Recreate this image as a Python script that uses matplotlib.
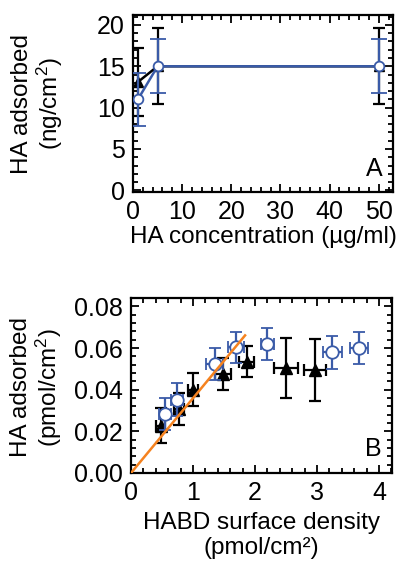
import matplotlib
matplotlib.use("Agg")
import matplotlib.pyplot as plt
from matplotlib.ticker import MultipleLocator

plt.rcParams["font.family"] = ["Liberation Sans", "DejaVu Sans"]
plt.rcParams["mathtext.fontset"] = "custom"
plt.rcParams["mathtext.rm"] = "Liberation Sans"
plt.rcParams["mathtext.default"] = "regular"

BLUE = "#3a5ba8"
ORANGE = "#f5821f"

# Panel A: HA concentration series
conc = [1, 5, 50]
tri_a = [13.1, 15.0, 15.0]
tri_a_err = [4.1, 4.6, 4.6]
circ_a = [11.0, 15.0, 15.0]
circ_a_err = [3.2, 3.25, 3.25]

# Panel B: HABD surface density series
tri_bx = [0.48, 0.77, 1.0, 1.49, 1.87, 2.50, 2.97]
tri_bx_err = [0.07, 0.08, 0.08, 0.13, 0.12, 0.2, 0.18]
tri_by = [0.0227, 0.0307, 0.0400, 0.0476, 0.0535, 0.0505, 0.0495]
tri_by_err = [0.0083, 0.0078, 0.0078, 0.0078, 0.0075, 0.0145, 0.015]
circ_bx = [0.55, 0.74, 1.35, 1.69, 2.20, 3.25, 3.68]
circ_bx_err = [0.1, 0.1, 0.14, 0.13, 0.1, 0.16, 0.14]
circ_by = [0.0283, 0.0352, 0.0524, 0.0604, 0.0620, 0.0580, 0.0600]
circ_by_err = [0.0078, 0.0078, 0.0078, 0.0075, 0.0078, 0.008, 0.0078]
fit_x = [0.0, 1.84]
fit_slope = 0.0359

FS = 18
LFS = 17.5

fig = plt.figure(figsize=(3.97, 5.62), dpi=100)
ax1 = fig.add_axes([133 / 397, 1 - 192 / 562, 260 / 397, 177 / 562])
ax2 = fig.add_axes([131 / 397, 1 - 473 / 562, 261 / 397, 175 / 562])


def style(ax):
    for s in ax.spines.values():
        s.set_linewidth(1.6)
    ax.tick_params(which="both", direction="in", top=True, right=True,
                   width=1.3, labelsize=FS)
    ax.tick_params(which="major", length=6, pad=6)
    ax.tick_params(which="minor", length=3.5)


# ---- Panel A ----
ax1.errorbar(conc, tri_a, yerr=tri_a_err, color="black", marker="^", ms=7,
             lw=1.8, elinewidth=1.6, capsize=4.5, capthick=1.6, zorder=2)
ax1.errorbar(conc, circ_a, yerr=circ_a_err, color=BLUE, marker="o", ms=7,
             mfc="white", mec=BLUE, mew=1.3, lw=1.8, elinewidth=1.6,
             capsize=5.5, capthick=1.6, zorder=3)
ax1.set_xlim(0, 52.9)
ax1.set_ylim(-0.2, 21.2)
ax1.xaxis.set_major_locator(MultipleLocator(10))
ax1.xaxis.set_minor_locator(MultipleLocator(2))
ax1.yaxis.set_major_locator(MultipleLocator(5))
ax1.yaxis.set_minor_locator(MultipleLocator(1))
style(ax1)
ax1.set_xlabel("HA concentration (µg/ml)", fontsize=LFS, labelpad=1)
ax1.set_ylabel("HA adsorbed\n(ng/cm$^2$)", fontsize=LFS, va="center",
               linespacing=1.05)
ax1.yaxis.set_label_coords(-0.365, 0.5)
ax1.text(0.96, 0.06, "A", transform=ax1.transAxes, ha="right", va="bottom",
         fontsize=FS)

# ---- Panel B ----
ax2.errorbar(tri_bx, tri_by, xerr=tri_bx_err, yerr=tri_by_err, color="black",
             marker="^", ms=8.5, ls="none", elinewidth=1.6, capsize=4.5,
             capthick=1.6, zorder=2)
ax2.errorbar(circ_bx, circ_by, xerr=circ_bx_err, yerr=circ_by_err, color=BLUE,
             marker="o", ms=9, mfc="white", mec=BLUE, mew=1.3, ls="none",
             elinewidth=1.6, capsize=4.5, capthick=1.6, zorder=3)
ax2.plot(fit_x, [fit_slope * x for x in fit_x], color=ORANGE, lw=1.8, zorder=4)
ax2.set_xlim(0, 4.21)
ax2.set_ylim(0, 0.084)
ax2.xaxis.set_major_locator(MultipleLocator(1))
ax2.xaxis.set_minor_locator(MultipleLocator(0.2))
ax2.yaxis.set_major_locator(MultipleLocator(0.02))
ax2.yaxis.set_minor_locator(MultipleLocator(0.004))
ax2.yaxis.set_major_formatter(plt.FormatStrFormatter("%.2f"))
style(ax2)
ax2.set_xlabel("HABD surface density\n(pmol/cm²)", fontsize=LFS,
               labelpad=5, linespacing=1.15)
ax2.set_ylabel("HA adsorbed\n(pmol/cm$^2$)", fontsize=LFS, va="center",
               linespacing=1.05)
ax2.yaxis.set_label_coords(-0.36, 0.49)
ax2.text(0.96, 0.07, "B", transform=ax2.transAxes, ha="right", va="bottom",
         fontsize=FS)

fig.savefig("out.png", dpi=100)
